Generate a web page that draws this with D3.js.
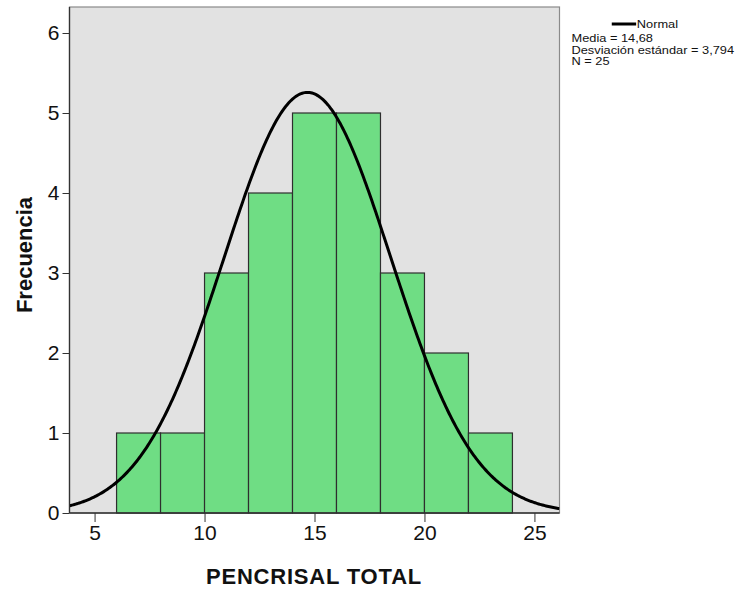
<!DOCTYPE html>
<html><head><meta charset="utf-8">
<script src="https://cdn.jsdelivr.net/npm/d3@7"></script>
<style>body{margin:0;background:#fff}svg{display:block}</style>
</head><body>
<script>
const binStarts = [6, 8, 10, 12, 14, 16, 18, 20, 22];
const binWidth = 2;
const counts = [1, 1, 3, 4, 5, 5, 3, 2, 1];
const xTicks = [5, 10, 15, 20, 25];
const yTicks = [0, 1, 2, 3, 4, 5, 6];
const mean = 14.68, sd = 3.794, n = 25;
const legendLines = ["Media = 14,68", "Desviación estándar = 3,794", "N = 25"];

(function () {
const W = 737, H = 589;
const svg = d3.select("body").append("svg").attr("width", W).attr("height", H);
const font = "Liberation Sans, Arial, sans-serif";

const pl = 69.5, pr = 559.5, pt = 7, pb = 513;
const x = d3.scaleLinear().domain([3.86, 26.14]).range([pl, pr]);
const y = d3.scaleLinear().domain([0, 6.325]).range([pb, pt]);

svg.append("rect").attr("x", pl).attr("y", pt).attr("width", pr - pl).attr("height", pb - pt)
  .attr("fill", "#e2e2e2").attr("stroke", "#8a8a8a").attr("stroke-width", 1.2);

svg.append("clipPath").attr("id", "clip").append("rect")
  .attr("x", pl).attr("y", pt).attr("width", pr - pl).attr("height", pb - pt);

svg.append("g").selectAll("rect").data(binStarts).join("rect")
  .attr("x", d => x(d)).attr("width", d => x(d + binWidth) - x(d))
  .attr("y", (d, i) => y(counts[i])).attr("height", (d, i) => y(0) - y(counts[i]))
  .attr("fill", "#6fdd84").attr("stroke", "#2e2e2e").attr("stroke-width", 1.2);

const pdf = v => n * binWidth * Math.exp(-0.5 * ((v - mean) / sd) ** 2) / (sd * Math.sqrt(2 * Math.PI));
const xs = d3.range(0, 401).map(i => 3.86 + (26.14 - 3.86) * i / 400);
svg.append("path").attr("clip-path", "url(#clip)")
  .attr("d", d3.line().x(d => x(d)).y(d => y(pdf(d)))(xs))
  .attr("fill", "none").attr("stroke", "#000").attr("stroke-width", 3);

svg.append("line").attr("x1", pl).attr("x2", pl).attr("y1", pt).attr("y2", pb).attr("stroke", "#333").attr("stroke-width", 1.3);
svg.append("line").attr("x1", pl).attr("x2", pr).attr("y1", pb).attr("y2", pb).attr("stroke", "#333").attr("stroke-width", 1.3);

const yAxis = svg.append("g").attr("transform", `translate(${pl},0)`)
  .call(d3.axisLeft(y).tickValues(yTicks).tickSize(7).tickPadding(3).tickFormat(d3.format("d")));
yAxis.select(".domain").remove();
yAxis.selectAll("line").attr("stroke", "#333");
yAxis.selectAll("text").attr("font-family", font).attr("font-size", 21).attr("fill", "#111");

const xAxis = svg.append("g").attr("transform", `translate(0,${pb})`)
  .call(d3.axisBottom(x).tickValues(xTicks).tickSize(9).tickPadding(3).tickFormat(d3.format("d")));
xAxis.select(".domain").remove();
xAxis.selectAll("line").attr("stroke", "#333");
xAxis.selectAll("text").attr("font-family", font).attr("font-size", 21).attr("fill", "#111");

svg.append("text").attr("x", 314).attr("y", 583.5).attr("text-anchor", "middle")
  .attr("font-family", font).attr("font-weight", "bold").attr("font-size", 22).attr("letter-spacing", 0.8).attr("fill", "#111")
  .text("PENCRISAL TOTAL");

svg.append("text").attr("transform", "translate(32,255) rotate(-90)").attr("text-anchor", "middle")
  .attr("font-family", font).attr("font-weight", "bold").attr("font-size", 22).attr("fill", "#111")
  .text("Frecuencia");

const lg = svg.append("g").attr("transform", "translate(571.5,0) scale(1.22,1)");
lg.append("line").attr("x1", 33).attr("x2", 53).attr("y1", 24).attr("y2", 24).attr("stroke", "#000").attr("stroke-width", 3);
lg.append("text").attr("x", 53.5).attr("y", 28.5).attr("font-family", font).attr("font-size", 10.5).attr("fill", "#111").text("Normal");
lg.selectAll("text.l").data(legendLines).join("text").attr("class", "l")
  .attr("x", 0).attr("y", (d, i) => 42.5 + i * 11.3)
  .attr("font-family", font).attr("font-size", 10.5).attr("fill", "#111").text(d => d);
})();
</script>
</body></html>
